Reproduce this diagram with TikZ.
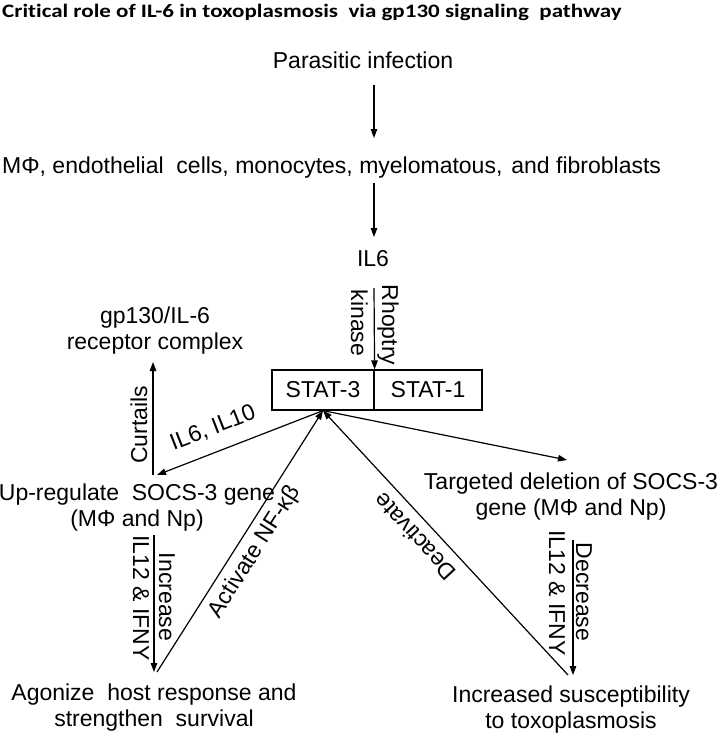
\documentclass[tikz,border=0pt]{standalone}
\usepackage{fontspec}
\usepackage{graphicx}
\setmainfont{Liberation Sans}
\newfontfamily\titlefont{Carlito}[Ligatures=NoCommon]
\usetikzlibrary{arrows.meta}
\begin{document}
\begin{tikzpicture}[x=1pt,y=-1pt,
  txt/.style={inner sep=0pt, font=\fontsize{23}{26}\selectfont, align=center},
  arr/.style={line width=1.2pt, -{Triangle[length=9pt,width=6.5pt]}},
  stat/.style={draw, line width=1.2pt, inner sep=0pt, minimum height=40pt, font=\fontsize{23}{26}\selectfont}]
\useasboundingbox (0,0) rectangle (721,737);
% title
\node[inner sep=0pt, anchor=base west] (title) at (2,17)
  {\scalebox{1.21}[1]{\titlefont\bfseries\fontsize{19}{22}\selectfont Critical role of IL-6 in toxoplasmosis\ \ via gp130 signaling\ \ pathway}};
% main nodes
\node[txt, anchor=base] (par) at (363,68) {Parasitic infection};
\node[txt, anchor=base west] (mphi) at (2,173) {MΦ, endothelial\ \ cells, monocytes, myelomatous,\hspace{9pt}and fibroblasts};
\node[txt, anchor=base] (il6) at (373,266) {IL6};
\node[stat, minimum width=102pt] (s3) at (323,390) {STAT-3};
\node[stat, minimum width=108pt] (s1) at (428,390) {STAT-1};
\node[txt] (gp) at (155,331) {gp130/IL-6\\receptor complex};
\node[txt] (up) at (137,508) {Up-regulate\ \ SOCS-3 gene\\(MΦ and Np)};
\node[txt] (ago) at (154,708) {Agonize\ \ host response and\\strengthen\ \ survival};
\node[txt] (tgt) at (571,497) {Targeted deletion of SOCS-3\\gene (MΦ and Np)};
\node[txt] (inc) at (571,710) {Increased susceptibility\\to toxoplasmosis};
% free connector ends
\coordinate (a1s) at (374,85);
\coordinate (a1e) at (374,138);
\coordinate (a2s) at (374,183);
\coordinate (a2e) at (374,237);
\coordinate (rk) at (374,288);
\coordinate (cu1) at (153,475);
\coordinate (cu2) at (153,362);
\coordinate (in1) at (154,535);
\coordinate (in2) at (154,672);
\coordinate (de1) at (573,540);
\coordinate (de2) at (573,675);
\coordinate (ilend) at (157,475);
\coordinate (actst) at (157,672);
\coordinate (deast) at (568,675);
\coordinate (tgend) at (567,460);
% connectors
\draw[arr] (a1s) -- (a1e);
\draw[arr] (a2s) -- (a2e);
\draw[arr] (rk) -- (s3.north east);
\node[txt, rotate=-90, anchor=base] (lrk1) at (382,325) {Rhoptry};
\node[txt, rotate=-90, anchor=base] (lrk2) at (351,323) {kinase};
\draw[arr] (cu1) -- (cu2);
\node[txt, rotate=90, anchor=base] (lcu) at (147,425) {Curtails};
\draw[arr] (in1) -- (in2);
\node[txt, rotate=-90, anchor=base] (lin1) at (159,597) {Increase};
\node[txt, rotate=-90, anchor=base] (lin2) at (133,598) {IL12 \& IFNY};
\draw[arr] (de1) -- (de2);
\node[txt, rotate=-90, anchor=base] (lde1) at (576,592) {Decrease};
\node[txt, rotate=-90, anchor=base] (lde2) at (549,593) {IL12 \& IFNY};
\draw[arr] (s3.south) -- (ilend);
\node[txt, rotate=21.4] (lil) at (213,428) {IL6, IL10};
\draw[arr] (actst) -- (s3.south);
\node[txt, rotate=57.6] (lac) at (255,552) {Activate NF-κβ};
\draw[arr] (deast) -- (s3.south);
\node[txt, rotate=132.8] (lda) at (415,537) {Deactivate};
\draw[arr] (s3.south) -- (tgend);
\end{tikzpicture}
\end{document}
